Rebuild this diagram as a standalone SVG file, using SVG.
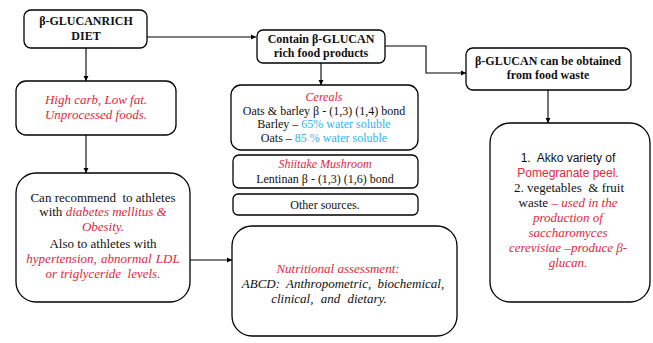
<svg xmlns="http://www.w3.org/2000/svg" width="653" height="343" viewBox="0 0 653 343">
<defs>
<marker id="ah" markerWidth="6" markerHeight="6" refX="5" refY="3" orient="auto" markerUnits="userSpaceOnUse">
<path d="M0,0.5 L5,3 L0,5.5 Z" fill="#000"/>
</marker>
<style>
.box{fill:#fff;stroke:#000;stroke-width:1.3}
.t{font-family:'Liberation Serif','DejaVu Serif',serif;font-size:12px;fill:#111;text-anchor:middle}
.m{font-size:13px}
.b{font-weight:bold}
.s{font-family:'Liberation Sans','DejaVu Sans',sans-serif;font-size:12px}
.r{fill:#e0283c;font-style:italic}
.rs{fill:#e0283c}
.bl{fill:#2fb4ec}
.i{font-style:italic}
.c{fill:none;stroke:#000;stroke-width:1.1;marker-end:url(#ah)}
</style>
</defs>
<rect width="653" height="343" fill="#fff"/>
<g id="connectors">
<path class="c" d="M86,48 V81"/>
<path class="c" d="M147,37 H256"/>
<path class="c" d="M86,135 V173"/>
<path class="c" d="M385,46 H426 V73 H466"/>
<path class="c" d="M321,63 V85"/>
<path class="c" d="M548,90 V123"/>
<path class="c" d="M190,260 H232"/>
</g>
<g id="n-diet">
<rect class="box" x="24" y="10" width="123" height="38" rx="7"/>
<text class="t b" x="86" y="25">β-GLUCANRICH</text>
<text class="t b" x="86" y="40">DIET</text>
</g>
<g id="n-highcarb">
<rect class="box" x="16" y="81" width="160" height="54" rx="10"/>
<text class="t m r" x="96" y="104">High carb, Low fat.</text>
<text class="t m r" x="96" y="119">Unprocessed foods.</text>
</g>
<g id="n-recommend">
<rect class="box" x="16" y="173" width="174" height="129" rx="20"/>
<text class="t m" x="103" y="202">Can recommend&#160; to athletes</text>
<text class="t m" x="103" y="216">with <tspan class="r">diabetes mellitus &amp;</tspan></text>
<text class="t m r" x="103" y="231">Obesity.</text>
<text class="t m" x="103" y="248">Also to athletes with</text>
<text class="t m r" x="103" y="263" word-spacing="1">hypertension, abnormal LDL</text>
<text class="t m r" x="103" y="278">or triglyceride&#160; levels.</text>
</g>
<g id="n-contain">
<rect class="box" x="257" y="30" width="128" height="33" rx="6"/>
<text class="t b" x="321" y="43">Contain β-GLUCAN</text>
<text class="t b" x="321" y="57">rich food products</text>
</g>
<g id="n-cereals">
<rect class="box" x="231" y="85" width="187" height="65" rx="10"/>
<text class="t r" x="324" y="101">Cereals</text>
<text class="t" x="324" y="115">Oats &amp; barley β - (1,3) (1,4) bond</text>
<text class="t" x="324" y="128">Barley – <tspan class="bl">65% water soluble</tspan></text>
<text class="t" x="324" y="142">Oats – <tspan class="bl">85 % water soluble</tspan></text>
</g>
<g id="n-shiitake">
<rect class="box" x="233" y="155" width="185" height="33" rx="6"/>
<text class="t r" x="325" y="168">Shiitake Mushroom</text>
<text class="t" x="325" y="183">Lentinan β - (1,3) (1,6) bond</text>
</g>
<g id="n-other">
<rect class="box" x="233" y="194" width="185" height="21" rx="5"/>
<text class="t" x="325" y="209">Other sources.</text>
</g>
<g id="n-nutrition">
<rect class="box" x="232" y="226" width="225" height="110" rx="20"/>
<text class="t m r" x="338" y="273">Nutritional assessment:</text>
<text class="t m i" x="343" y="288" word-spacing="3">ABCD: Anthropometric, biochemical,</text>
<text class="t m i" x="329" y="303" word-spacing="4">clinical, and dietary.</text>
</g>
<g id="n-waste">
<rect class="box" x="466" y="48" width="165" height="42" rx="7"/>
<text class="t b" x="548" y="65">β-GLUCAN can be obtained</text>
<text class="t b" x="548" y="79">from food waste</text>
</g>
<g id="n-pomegranate">
<rect class="box" x="490" y="123" width="160" height="179" rx="20"/>
<text class="t s" x="568" y="162">1.&#160; Akko variety of</text>
<text class="t s rs" x="568" y="177">Pomegranate peel.</text>
<text class="t m" x="569" y="192">2. vegetables&#160; &amp; fruit</text>
<text class="t m" x="568" y="207">waste <tspan class="r">– used in the</tspan></text>
<text class="t m r" x="568" y="222">production of</text>
<text class="t m r" x="568" y="237">saccharomyces</text>
<text class="t m r" x="568" y="252">cerevisiae –produce β-</text>
<text class="t m r" x="568" y="267">glucan.</text>
</g>
</svg>
